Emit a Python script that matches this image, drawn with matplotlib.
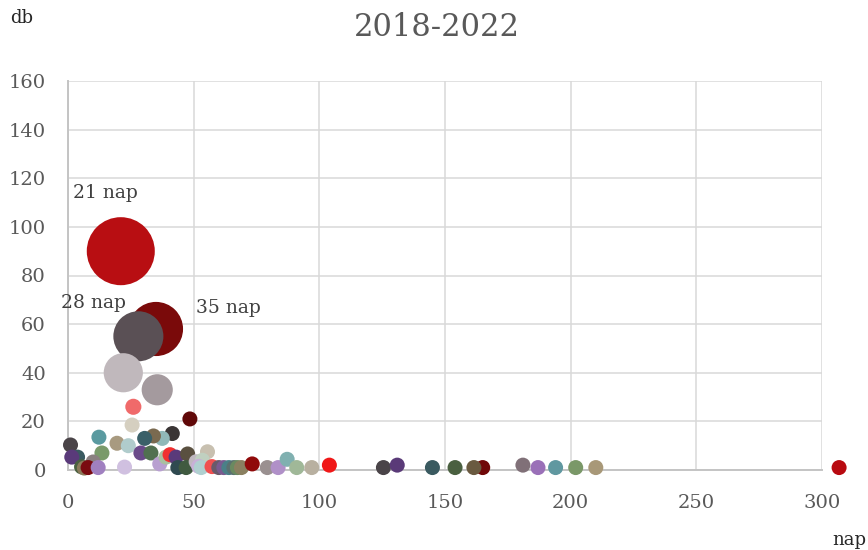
import matplotlib
matplotlib.use("Agg")
import matplotlib.pyplot as plt

# ── data: (nap, db, bubble size, colour) ────────────────────────────────
nap = [21, 35, 28, 22, 35.5, 26, 25.5, 48.5, 41.5, 37.5, 34, 30.5, 12.3, 19.5,
       24, 1, 13.5, 29, 33, 3.8, 1.5, 10, 5.4, 6.5, 8, 12, 22.5, 36.5, 39,
       40.6, 43, 47.6, 43.7, 47, 55.5, 51, 53.5, 52, 53, 57.3, 60, 62, 64, 66,
       67.4, 69, 73.3, 79.3, 83.6, 87.2, 91, 97, 104, 125.5, 131, 145, 154,
       165, 161.5, 181, 187, 194, 202, 210, 306.8]
db = [90, 58, 55, 40, 33, 26, 18.5, 21, 15, 13, 14, 13, 13.5, 11,
      10, 10.3, 7, 7, 7, 5.3, 5.3, 3.3, 1.3, 0.8, 1, 1, 1.2, 2.5, 5.3,
      6.3, 5.3, 6.6, 1, 1, 7.5, 3.4, 4, 1.5, 1, 1.4, 1, 1, 1, 1,
      1, 1, 2.5, 1, 1, 4.4, 1, 1, 2, 1, 2, 1, 1,
      1, 1, 2, 1, 1, 1, 1, 1]
meret = [20.5, 13, 11.1, 6.8, 4.3, 1.15] + [1] * 59
szin = ["#b80e12", "#7a0a0a", "#5a5055", "#c0b8bc", "#a49a9e", "#f06a6a",
        "#d5cfc0", "#600808", "#3a3535", "#90b8b8", "#7a6a50", "#3a6068",
        "#5a9aa0", "#a89a80", "#b0cccc", "#4a4448", "#7a9a6a", "#6a4a8a",
        "#507050", "#3a5a60", "#5a3a7a", "#8a8080", "#4a6040", "#8a7a5a",
        "#7a0a10", "#a080c0", "#d0c0e0", "#b8a0d0", "#a8c0a0", "#f03030",
        "#5a3a7a", "#5a5040", "#2f4a50", "#405a40", "#c8c0b0", "#c0b8c0",
        "#c0d0c0", "#c8b0d8", "#b0d0d0", "#f05050", "#6a5a6a", "#7a5a90",
        "#4a8088", "#5a7070", "#6a8a60", "#8a8060", "#900a0a", "#9a9090",
        "#b090c8", "#80b0b0", "#a0b898", "#b8b0a0", "#f01818", "#4a4448",
        "#5a3a78", "#3a5a60", "#4a6040", "#700808", "#6a5a40", "#807078",
        "#9a70b8", "#6098a0", "#7a9868", "#a89878", "#b80a10"]

cimkek = {0: "21 nap", 2: "28 nap", 1: "35 nap"}
cimke_eltolas = {0: (-11, 42), 2: (-32, 24), 1: (52, 15)}

TEXT_C = "#595959"
GRID_C = "#d9d9d9"
AXIS_C = "#c4c4c4"

plt.rcParams["font.family"] = ["DejaVu Serif"]

fig = plt.figure(figsize=(8.68, 5.5), dpi=100)
ax = fig.add_axes([68 / 868, 1 - 470 / 550, (822 - 68) / 868, (470 - 81) / 550])

ax.scatter(nap, db, s=[117 * m for m in meret], c=szin, linewidths=0,
           clip_on=False, zorder=3)

for i, txt in cimkek.items():
    ax.annotate(txt, (nap[i], db[i]), xytext=cimke_eltolas[i],
                textcoords="offset points", ha="center", va="center",
                fontsize=13.5, color="#404040", zorder=4)

ax.set_xlim(0, 300)
ax.set_ylim(0, 160)
ax.set_xticks(range(0, 301, 50))
ax.set_yticks(range(0, 161, 20))
ax.grid(color=GRID_C, linewidth=1.1, zorder=0)
ax.set_axisbelow(True)
for side in ["top", "right"]:
    ax.spines[side].set_visible(False)
for side in ["left", "bottom"]:
    ax.spines[side].set_color(AXIS_C)
    ax.spines[side].set_linewidth(1.4)
ax.tick_params(length=0, labelsize=14, colors=TEXT_C)
ax.tick_params(axis="x", pad=17)
ax.tick_params(axis="y", pad=16)

fig.text(437 / 868, 1 - 28 / 550, "2018-2022", ha="center", va="center",
         fontsize=22, color=TEXT_C)
fig.text(22 / 868, 1 - 18 / 550, "db", ha="center", va="center",
         fontsize=13, color="#262626")
fig.text(849 / 868, 1 - 540 / 550, "nap", ha="center", va="center",
         fontsize=13, color="#262626")

fig.savefig("out.png", dpi=100)
